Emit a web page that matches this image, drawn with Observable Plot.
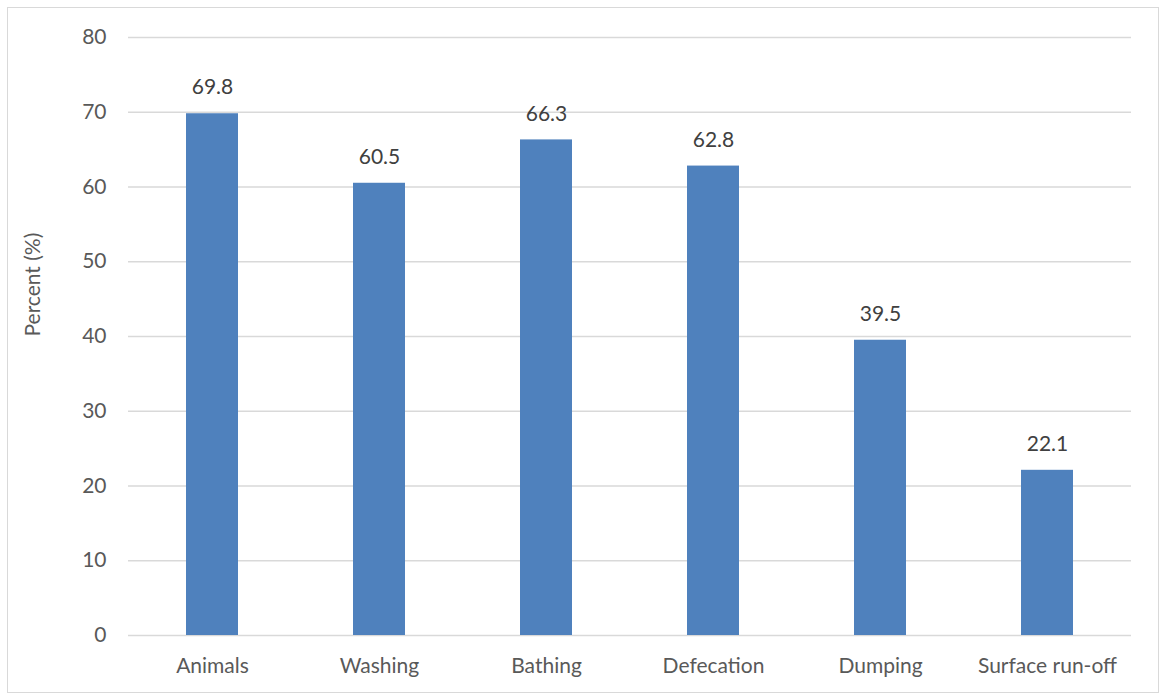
<!DOCTYPE html>
<html>
<head>
<meta charset="utf-8">
<script src="https://cdn.jsdelivr.net/npm/d3@7"></script>
<script src="https://cdn.jsdelivr.net/npm/@observablehq/plot@0.6"></script>
<style>
  html, body { margin: 0; padding: 0; background: #fff; }
  #wrap { position: relative; width: 1160px; height: 693px; }
  #border { position: absolute; left: 7px; top: 7px; width: 1150px; height: 684px; border: 1px solid #d9d9d9; pointer-events: none; }
</style>
</head>
<body>
<div id="wrap"><div id="border"></div></div>
<script>
const categories = ["Animals", "Washing", "Bathing", "Defecation", "Dumping", "Surface run-off"];
const percents = [69.8, 60.5, 66.3, 62.8, 39.5, 22.1];
const yTicks = [0, 10, 20, 30, 40, 50, 60, 70, 80];

const data = categories.map((c, i) => ({category: c, value: percents[i]}));

const font = "Lato, 'Open Sans', sans-serif";

const chart = Plot.plot({
  width: 1160,
  height: 693,
  marginLeft: 128,
  marginRight: 29,
  marginTop: 37,
  marginBottom: 58,
  style: {fontFamily: font, fontSize: "20px", color: "#595959", background: "transparent"},
  x: {domain: categories, label: null, paddingInner: 0.69, paddingOuter: 0.345, align: 0.5},
  y: {domain: [0, 80], label: null},
  marks: [
    Plot.gridY(yTicks, {stroke: "#d9d9d9", strokeOpacity: 1, strokeWidth: 1.3}),
    Plot.barY(data, {x: "category", y: "value", fill: "#4f81bd"}),
    Plot.text(data, {x: "category", y: "value", text: d => d.value.toFixed(1), dy: -26, fill: "#404040", fontSize: 21}),
    Plot.axisX({tickSize: 0, tickPadding: 23, fontSize: 21, fill: "#595959", label: null}),
    Plot.axisY({ticks: yTicks, tickSize: 0, tickPadding: 22, fontSize: 21, fill: "#595959", label: null}),
    Plot.text(["Percent (%)"], {frameAnchor: "left", dx: -95, rotate: -90, fontSize: 21, fill: "#595959"})
  ]
});
document.getElementById("wrap").appendChild(chart);
chart.style.position = "absolute";
chart.style.left = "0";
chart.style.top = "0";
</script>
</body>
</html>
